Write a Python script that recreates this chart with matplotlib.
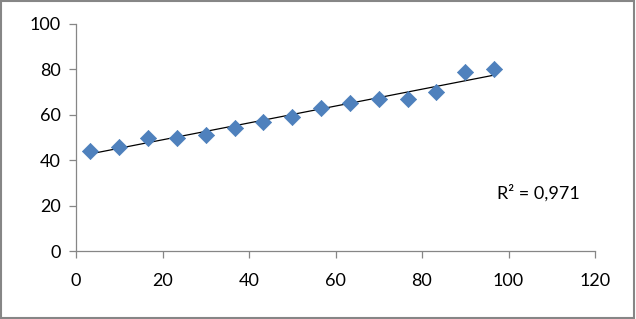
import numpy as np
import matplotlib
matplotlib.use('Agg')
import matplotlib.pyplot as plt

plt.rcParams['font.family'] = ['Lato', 'DejaVu Sans']

x = [3.3, 10, 16.7, 23.3, 30, 36.7, 43.3, 50, 56.7, 63.3, 70, 76.7, 83.3, 90, 96.7]
y = [44, 46, 50, 50, 51, 54, 57, 59, 63, 65, 67, 67, 70, 79, 80]
r2_label = 'R² = 0,971'

fig = plt.figure(figsize=(6.36, 3.19), dpi=100)
ax = fig.add_axes([76 / 636, 1 - 251 / 319, 519 / 636, 227 / 319])

# linear trend line over the data range
k, b = np.polyfit(x, y, 1)
xs = np.array([min(x), max(x)])
ax.plot(xs, k * xs + b, color='black', lw=0.9, zorder=2)
ax.scatter(x, y, marker='D', s=68, color='#4f81bd', edgecolors='#4a7ebb', lw=0.5, zorder=3)

ax.set_xlim(0, 120)
ax.set_ylim(0, 100)
ax.set_xticks(range(0, 121, 20))
ax.set_yticks(range(0, 101, 20))
for s in ['top', 'right']:
    ax.spines[s].set_visible(False)
for s in ['left', 'bottom']:
    ax.spines[s].set_color('#868686')
    ax.spines[s].set_linewidth(0.9)
ax.tick_params(colors='#868686', labelcolor='black', length=5, width=0.9, labelsize=13)
ax.tick_params(axis='x', pad=11)
ax.tick_params(axis='y', pad=6)

ax.text(0.811, 0.255, r2_label, transform=ax.transAxes, fontsize=13, va='center')

# outer chart border
fig.patches.append(plt.Rectangle((0.002, 0.004), 0.995, 0.992, transform=fig.transFigure,
                                 fill=False, edgecolor='#868686', lw=1.5))

fig.savefig('out.png', dpi=100)
